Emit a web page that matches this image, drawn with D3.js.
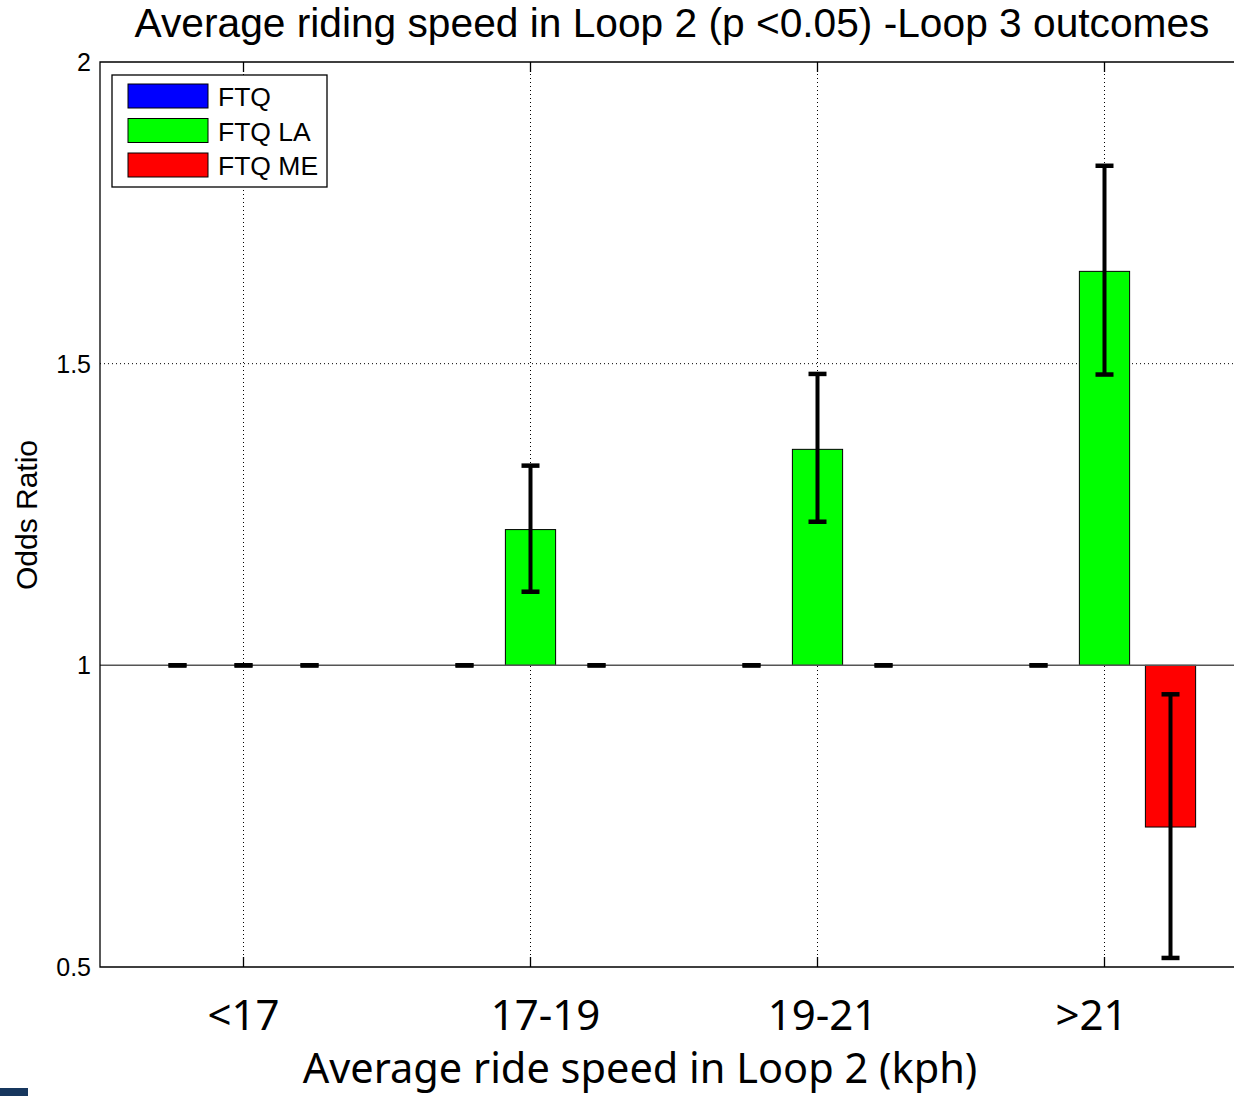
<!DOCTYPE html>
<html>
<head>
<meta charset="utf-8">
<script src="https://cdn.jsdelivr.net/npm/d3@7"></script>
<style>
  body { margin: 0; background: #fff; }
  svg { display: block; }
</style>
</head>
<body>
<svg id="chart" width="1234" height="1096"></svg>
<script>
// values
const categories = ["<17", "17-19", "19-21", ">21"];
const seriesNames = ["FTQ", "FTQ LA", "FTQ ME"];
const seriesColors = ["#0000ff", "#00ff00", "#ff0000"];
const ftqValues = [1, 1, 1, 1];
const ftqLaValues = [1, 1.225, 1.358, 1.653];
const ftqMeValues = [1, 1, 1, 0.732];
const ftqLow = [1, 1, 1, 1];
const ftqHigh = [1, 1, 1, 1];
const ftqLaLow = [1, 1.122, 1.238, 1.482];
const ftqLaHigh = [1, 1.331, 1.483, 1.828];
const ftqMeLow = [1, 1, 1, 0.515];
const ftqMeHigh = [1, 1, 1, 0.952];
const yTicks = [0.5, 1, 1.5, 2];

const margin = { top: 62, left: 100 };
const plotH = 905;
const unit = 287; // px per category

const svg = d3.select("#chart");

const x = d3.scaleLinear().domain([0.5, 4.5]).range([margin.left, margin.left + 4 * unit]);
const y = d3.scaleLinear().domain([0.5, 2]).range([margin.top + plotH, margin.top]);
const groupOffset = 0.23;
const barW = 0.175;

const series = [
    { name: seriesNames[0], color: seriesColors[0], values: ftqValues, lo: ftqLow, hi: ftqHigh },
    { name: seriesNames[1], color: seriesColors[1], values: ftqLaValues, lo: ftqLaLow, hi: ftqLaHigh },
    { name: seriesNames[2], color: seriesColors[2], values: ftqMeValues, lo: ftqMeLow, hi: ftqMeHigh }
];

const plotRight = x.range()[1];

// grid
const grid = svg.append("g");
grid.selectAll("line.vg")
    .data(categories)
    .join("line")
    .attr("x1", (d, i) => x(i + 1)).attr("x2", (d, i) => x(i + 1))
    .attr("y1", y(2)).attr("y2", y(0.5))
    .attr("stroke", "#000").attr("stroke-width", 1)
    .attr("stroke-dasharray", "1,3");
grid.selectAll("line.hg")
    .data([1.5])
    .join("line")
    .attr("x1", margin.left).attr("x2", plotRight)
    .attr("y1", d => y(d)).attr("y2", d => y(d))
    .attr("stroke", "#000").attr("stroke-width", 1)
    .attr("stroke-dasharray", "1,3");

// bars
const bars = [];
series.forEach((s, si) => {
    s.values.forEach((v, i) => {
        bars.push({ s, si, i, v, lo: s.lo[i], hi: s.hi[i] });
    });
});
const bx = d => x(d.i + 1 + (d.si - 1) * groupOffset);

svg.append("g").selectAll("rect")
    .data(bars.filter(d => d.v !== 1))
    .join("rect")
    .attr("x", d => bx(d) - (x(barW) - x(0)) / 2)
    .attr("width", x(barW) - x(0))
    .attr("y", d => y(Math.max(d.v, 1)))
    .attr("height", d => Math.abs(y(d.v) - y(1)))
    .attr("fill", d => d.s.color)
    .attr("stroke", "#000").attr("stroke-width", 1);

// baseline
svg.append("line")
    .attr("x1", margin.left).attr("x2", plotRight)
    .attr("y1", y(1)).attr("y2", y(1))
    .attr("stroke", "#555").attr("stroke-width", 1.5);

// error bars
const eg = svg.append("g").attr("stroke", "#000");
eg.selectAll("line.stem")
    .data(bars)
    .join("line")
    .attr("x1", bx).attr("x2", bx)
    .attr("y1", d => y(d.lo)).attr("y2", d => y(d.hi))
    .attr("stroke-width", 4);
const caps = [];
bars.forEach(d => { caps.push({ d, v: d.lo }); caps.push({ d, v: d.hi }); });
eg.selectAll("line.cap")
    .data(caps)
    .join("line")
    .attr("x1", c => bx(c.d) - 9).attr("x2", c => bx(c.d) + 9)
    .attr("y1", c => y(c.v)).attr("y2", c => y(c.v))
    .attr("stroke-width", 4.5);

// frame
svg.append("path")
    .attr("d", `M${plotRight},${y(2)}H${margin.left}V${y(0.5)}H${plotRight}`)
    .attr("fill", "none").attr("stroke", "#000").attr("stroke-width", 1.3);

// category ticks top and bottom
const ticks = svg.append("g").attr("stroke", "#000").attr("stroke-width", 1.3);
categories.forEach((c, i) => {
    ticks.append("line").attr("x1", x(i + 1)).attr("x2", x(i + 1)).attr("y1", y(2)).attr("y2", y(2) + 10);
    ticks.append("line").attr("x1", x(i + 1)).attr("x2", x(i + 1)).attr("y1", y(0.5)).attr("y2", y(0.5) - 10);
});

// y axis labels
svg.append("g").selectAll("text")
    .data(yTicks)
    .join("text")
    .attr("x", 91)
    .attr("y", d => y(d) + 9)
    .attr("text-anchor", "end")
    .attr("font-family", "Liberation Sans, Arial, sans-serif")
    .attr("font-size", 25)
    .text(d => d);

// x labels
svg.append("g").selectAll("text")
    .data(categories)
    .join("text")
    .attr("x", (d, i) => x(i + 1) + [0, 15, 5, -13][i])
    .attr("y", 1030)
    .attr("text-anchor", "middle")
    .attr("font-family", "Noto Sans, Open Sans, sans-serif")
    .attr("font-size", 42)
    .text(d => d);

svg.append("text")
    .attr("x", 640).attr("y", 1083)
    .attr("text-anchor", "middle")
    .attr("font-family", "Noto Sans, Open Sans, sans-serif")
    .attr("font-size", 41.5)
    .text("Average ride speed in Loop 2 (kph)");

svg.append("text")
    .attr("transform", "translate(37,515) rotate(-90)")
    .attr("text-anchor", "middle")
    .attr("font-family", "Liberation Sans, Arial, sans-serif")
    .attr("font-size", 30)
    .text("Odds Ratio");

svg.append("text")
    .attr("x", 672).attr("y", 37)
    .attr("text-anchor", "middle")
    .attr("font-family", "Liberation Sans, Arial, sans-serif")
    .attr("font-size", 40.7)
    .text("Average riding speed in Loop 2 (p <0.05) -Loop 3 outcomes");

// legend
const lg = svg.append("g").attr("transform", "translate(112,75)");
lg.append("rect").attr("width", 215).attr("height", 112)
    .attr("fill", "#fff").attr("stroke", "#000").attr("stroke-width", 1.3);
const rows = lg.selectAll("g.row")
    .data(series)
    .join("g")
    .attr("transform", (d, i) => `translate(16,${9 + i * 34.5})`);
rows.append("rect").attr("width", 80).attr("height", 24)
    .attr("fill", d => d.color).attr("stroke", "#000").attr("stroke-width", 1);
rows.append("text").attr("x", 90).attr("y", 22)
    .attr("font-family", "Liberation Sans, Arial, sans-serif")
    .attr("font-size", 26.5)
    .text(d => d.name);

// slide corner mark
svg.append("rect").attr("x", 0).attr("y", 1088).attr("width", 28).attr("height", 8).attr("fill", "#17375e");
</script>
</body>
</html>
